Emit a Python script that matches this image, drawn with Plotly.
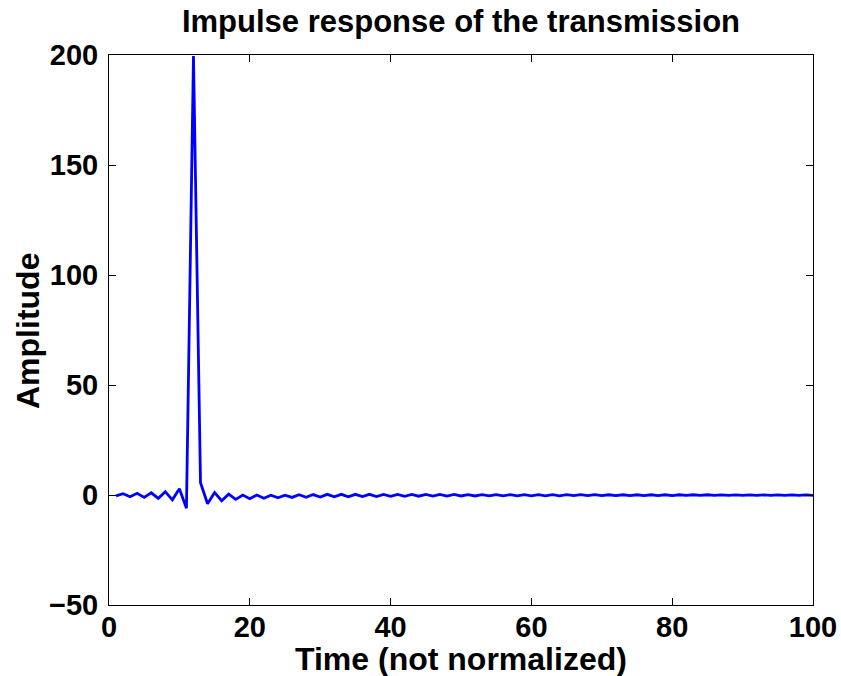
import plotly.graph_objects as go

# Sample index (MATLAB-style, 1-based)
time_idx = list(range(1, 101))

# Impulse response amplitudes per sample
amplitude = [
    -0.4, 0.6, -0.8, 0.75, -1.1, 1.0, -1.5, 1.5, -2.2, 2.8,
    -6.0, 199.5, 5.6, -4.0, 1.1, -2.6, 0.4, -2.0, 0.0, -1.7,
    0.0, -1.5, -0.1, -1.3, -0.1, -1.1, 0.1, -1.0, 0.2, -0.9,
    0.3, -0.8, 0.3, -0.8, 0.3, -0.7, 0.3, -0.7, 0.3, -0.6,
    0.3, -0.6, 0.3, -0.55, 0.25, -0.5, 0.25, -0.5, 0.25, -0.45,
    0.2, -0.45, 0.2, -0.4, 0.2, -0.4, 0.2, -0.4, 0.2, -0.35,
    0.15, -0.35, 0.15, -0.35, 0.15, -0.3, 0.15, -0.3, 0.15, -0.3,
    0.1, -0.3, 0.1, -0.25, 0.1, -0.25, 0.1, -0.25, 0.1, -0.25,
    0.1, -0.2, 0.1, -0.2, 0.1, -0.2, 0.05, -0.2, 0.05, -0.2,
    0.05, -0.15, 0.05, -0.15, 0.05, -0.15, 0.05, -0.15, 0.05, -0.15,
]

x_ticks = [0, 20, 40, 60, 80, 100]
y_ticks = [-50, 0, 50, 100, 150, 200]

FONT = "Liberation Sans, Arial, Helvetica, sans-serif"
W, H = 841, 676
ML, MR, MT, MB = 109, 28, 55, 71
PW, PH = W - ML - MR, H - MT - MB

fig = go.Figure()
fig.add_trace(go.Scatter(
    x=time_idx, y=amplitude, mode="lines",
    line=dict(color="#0000FF", width=2.8),
    hoverinfo="skip", showlegend=False,
))

axis_common = dict(
    showline=True, linecolor="black", linewidth=1,
    mirror="ticks", ticks="inside", ticklen=7, tickwidth=1, tickcolor="black",
    showgrid=False, zeroline=False, automargin=False,
    tickfont=dict(family=FONT, size=29, color="black", weight="bold"),
)

fig.update_layout(
    width=W, height=H,
    margin=dict(l=ML, r=MR, t=MT, b=MB, pad=0, autoexpand=False),
    paper_bgcolor="white", plot_bgcolor="white",
    xaxis=dict(range=[0, 100], tickvals=x_ticks, ticklabelstandoff=-4, **axis_common),
    yaxis=dict(range=[-50, 200], tickvals=y_ticks, ticklabelstandoff=4, **axis_common),
    title=dict(
        text="Impulse response of the transmission",
        x=(ML + PW / 2) / W, xanchor="center",
        y=1 - 21 / H, yanchor="middle", yref="container",
        font=dict(family=FONT, size=31, color="black", weight="bold"),
    ),
    annotations=[
        dict(text="Time (not normalized)", xref="paper", yref="paper",
             x=0.5, y=-(659 - (MT + PH)) / PH, xanchor="center", yanchor="middle",
             showarrow=False,
             font=dict(family=FONT, size=32, color="black", weight="bold")),
        dict(text="Amplitude", xref="paper", yref="paper",
             x=(28 - ML) / PW, y=(MT + PH - 331) / PH,
             xanchor="center", yanchor="middle", textangle=-90,
             showarrow=False,
             font=dict(family=FONT, size=32, color="black", weight="bold")),
    ],
    hovermode=False,
)

fig.write_html("out.html")
